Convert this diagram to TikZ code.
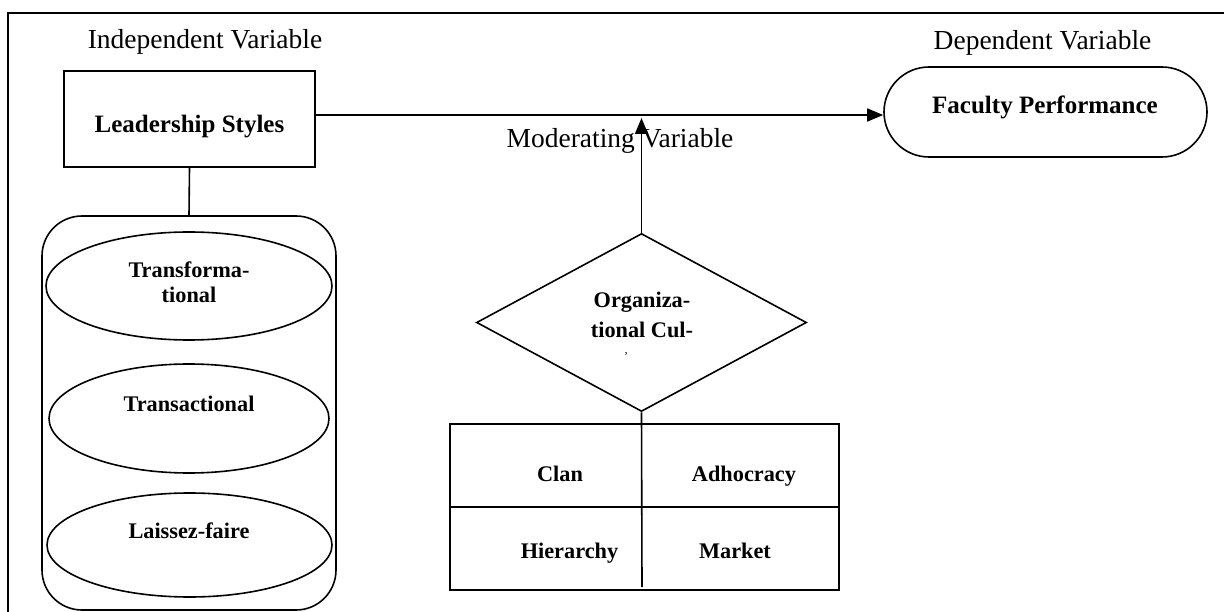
\documentclass[tikz,border=0pt]{standalone}
\usepackage{fontspec}
\setmainfont{Liberation Serif}
\usetikzlibrary{shapes.geometric,arrows.meta}
\begin{document}
\begin{tikzpicture}[x=1pt,y=-1pt,
  ln/.style={line width=1.6pt},
  arr/.style={ln,-{Triangle[length=16pt,width=13pt]}},
  lbl/.style={font=\fontsize{27.5}{30}\selectfont, inner sep=0, anchor=base},
  big/.style={font=\fontsize{25}{28}\selectfont\bfseries, inner sep=0, anchor=base},
  small/.style={font=\fontsize{22.3}{25}\selectfont\bfseries, inner sep=0, anchor=base, align=center},
  box/.style={ln, draw, inner sep=0}]
\useasboundingbox (0,0) rectangle (1224,612);
% outer frame
\draw[ln] (8,612) -- (8,13) -- (1224,13);
% labels
\node[lbl] (iv) at (205,49) {Independent Variable};
\node[lbl] (dv) at (1042.5,50) {Dependent Variable};
\node[lbl] (mv) at (620,148) {Moderating Variable};
% leadership styles
\node[box, minimum width=251pt, minimum height=96pt] (ls) at (189.5,119) {};
\node[big] (lst) at (189.5,133) {Leadership Styles};
% faculty performance
\node[box, rounded corners=45pt, minimum width=323pt, minimum height=90pt] (fp) at (1045.5,112) {};
\node[big] (fpt) at (1045,114) {Faculty Performance};
% container with ellipses
\node[box, rounded corners=40pt, minimum width=294pt, minimum height=394pt] (ct) at (189,413) {};
\node[box, ellipse, minimum width=286pt, minimum height=108pt] (e1) at (189,286) {};
\node[box, ellipse, minimum width=280pt, minimum height=109pt] (e2) at (189,418.5) {};
\node[box, ellipse, minimum width=285pt, minimum height=104pt] (e3) at (189.5,545) {};
\node[small] (t1) at (189,303) {Transforma-\\tional};
\node[small] (t2) at (189,411) {Transactional};
\node[small] (t3) at (189,538) {Laissez-faire};
% diamond
\node[box, diamond, minimum width=330pt, minimum height=178pt] (dm) at (641.5,322.5) {};
\node[small, font=\fontsize{22.3}{30}\selectfont\bfseries] (dt) at (642,338) {Organiza-\\tional Cul-};
\node[font=\fontsize{12}{12}\selectfont, inner sep=0, anchor=base] (dtm) at (626,360) {’};
% table
\node[box, minimum width=389pt, minimum height=166pt] (tb) at (644.5,507) {};
\draw[ln] (tb.west) -- (tb.east);
\coordinate (vb) at (642,587);
\draw[ln] (dm.south) -- (vb);
\node[small] (c1) at (560,481) {Clan};
\node[small] (c2) at (744,481) {Adhocracy};
\node[small] (c3) at (569.5,558) {Hierarchy};
\node[small] (c4) at (735,558) {Market};
% connectors
\draw[ln] (ls.south) -- (ct.north);
\coordinate (yline) at (0,115);
\draw[arr] (ls.east |- yline) -- (fp.west |- yline);
\coordinate (mtip) at (641.5,118);
\draw[arr] (dm.north) -- (mtip);
\end{tikzpicture}
\end{document}
